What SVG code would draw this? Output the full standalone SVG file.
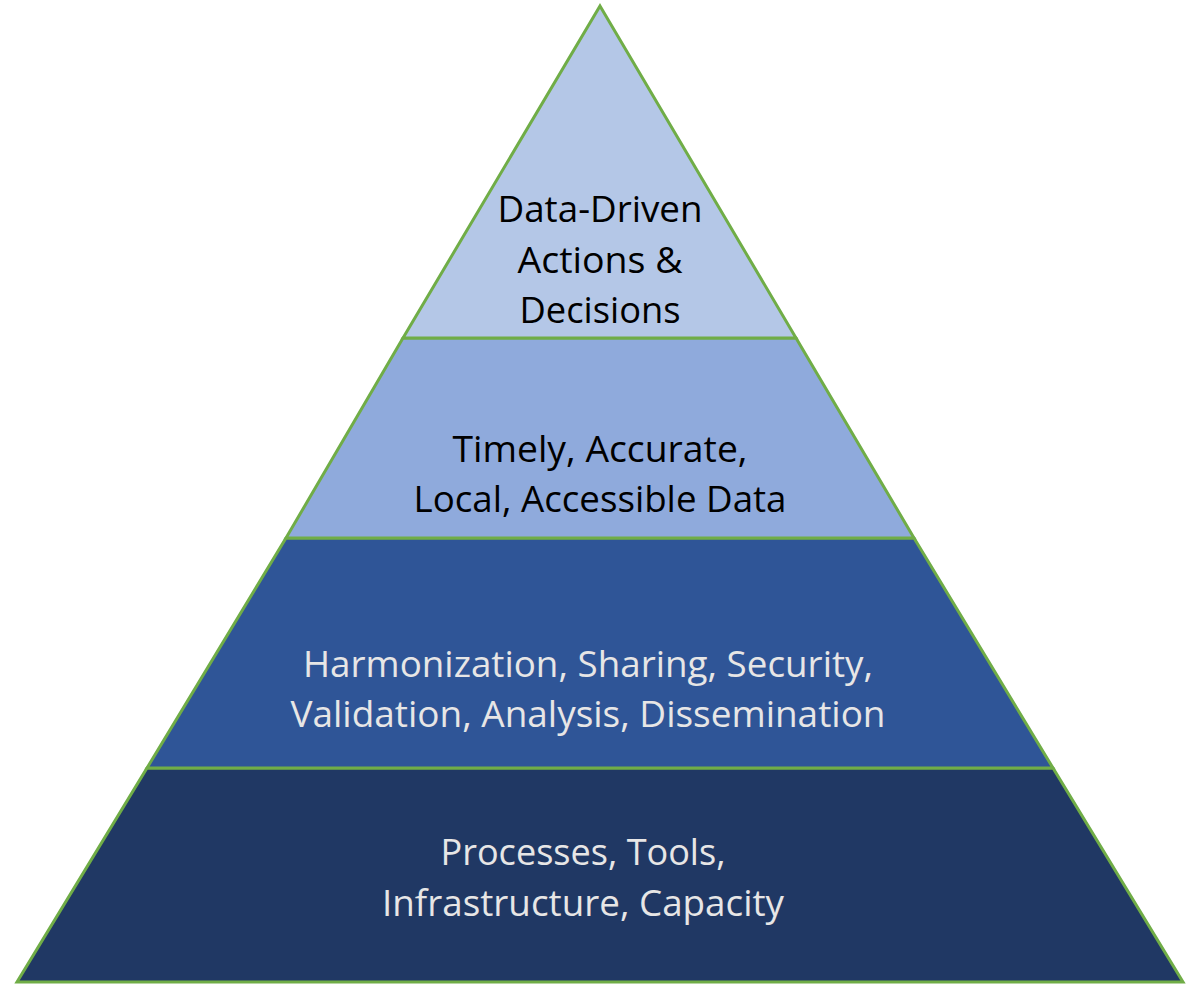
<svg xmlns="http://www.w3.org/2000/svg" width="1194" height="984" viewBox="0 0 1194 984">
<style>
.layer{stroke:#70AD47;stroke-width:3;stroke-linejoin:miter}
.t{font-family:"Open Sans","Liberation Sans",sans-serif;font-size:36px;text-anchor:middle}
.dark{fill:#000000}
.light{fill:#E7E6E6}
</style>
<rect width="1194" height="984" fill="#FFFFFF"/>
<g id="layer4">
<polygon class="layer" fill="#203864" points="147,768 1053,768 1183,982 17,982"/>
<text class="t light" x="583" y="865" textLength="285" lengthAdjust="spacingAndGlyphs">Processes, Tools,</text>
<text class="t light" x="583" y="916" textLength="402" lengthAdjust="spacingAndGlyphs">Infrastructure, Capacity</text>
</g>
<g id="layer3">
<polygon class="layer" fill="#2F5597" points="286,538 914,538 1053,768 147,768"/>
<text class="t light" x="588" y="677" textLength="570" lengthAdjust="spacingAndGlyphs">Harmonization, Sharing, Security,</text>
<text class="t light" x="588" y="727" textLength="595" lengthAdjust="spacingAndGlyphs">Validation, Analysis, Dissemination</text>
</g>
<g id="layer2">
<polygon class="layer" fill="#8FAADC" points="403,338 796,338 914,538 286,538"/>
<text class="t dark" x="600" y="462" textLength="295" lengthAdjust="spacingAndGlyphs">Timely, Accurate,</text>
<text class="t dark" x="600" y="512" textLength="373" lengthAdjust="spacingAndGlyphs">Local, Accessible Data</text>
</g>
<g id="layer1">
<polygon class="layer" fill="#B4C7E7" points="600,6 796,338 403,338"/>
<text class="t dark" x="600" y="222" textLength="205" lengthAdjust="spacingAndGlyphs">Data-Driven</text>
<text class="t dark" x="600" y="273" textLength="165" lengthAdjust="spacingAndGlyphs">Actions &amp;</text>
<text class="t dark" x="600" y="323" textLength="161" lengthAdjust="spacingAndGlyphs">Decisions</text>
</g>
<g id="connectors"/>
</svg>
